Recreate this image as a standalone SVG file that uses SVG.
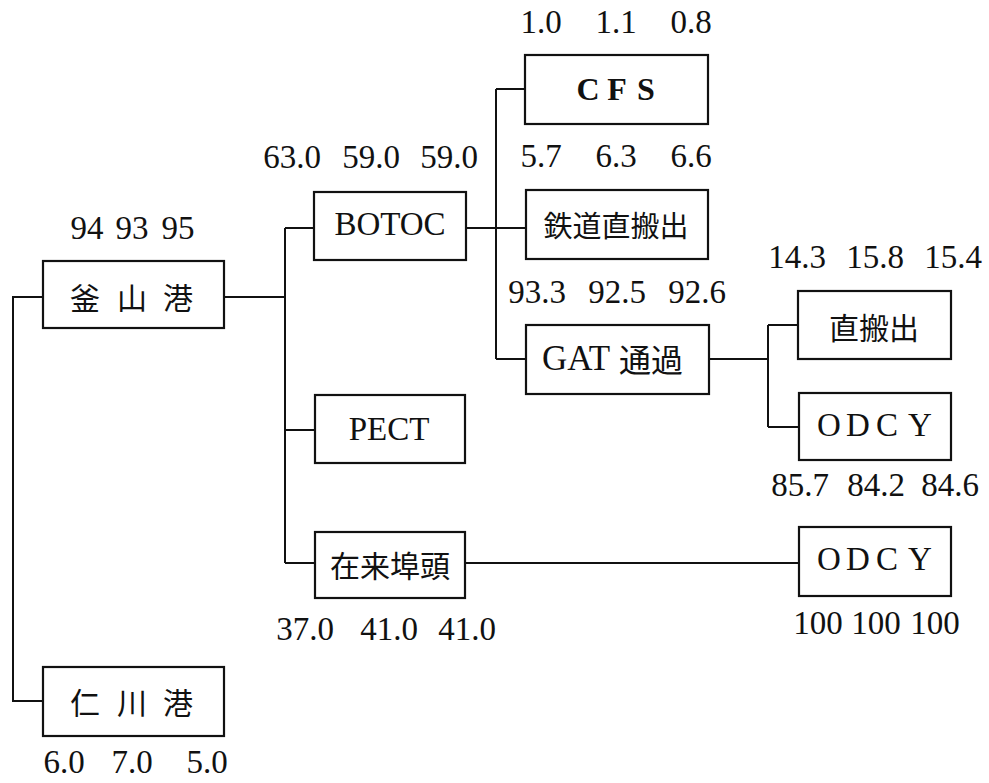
<svg xmlns="http://www.w3.org/2000/svg" width="989" height="783" viewBox="0 0 989 783">
<style>
.box{fill:#fff;stroke:#111;stroke-width:2.2}
.ln{fill:none;stroke:#111;stroke-width:2}
.num{font-family:"Liberation Serif","Noto Sans CJK JP",serif;font-size:33px;fill:#111;text-anchor:middle}
.lat{font-family:"Liberation Serif",serif;font-size:33px;fill:#111;text-anchor:middle}
.cjk{font-family:"Noto Sans CJK JP",sans-serif;font-size:30px;fill:#111;text-anchor:middle;dominant-baseline:central}
</style>
<rect width="989" height="783" fill="#fff"/>
<g id="connectors">
<polyline class="ln" points="43,297 13,297 13,701 43,701"/>
<line class="ln" x1="224" y1="297" x2="285" y2="297"/>
<line class="ln" x1="285" y1="228" x2="285" y2="563"/>
<line class="ln" x1="285" y1="228" x2="314" y2="228"/>
<line class="ln" x1="285" y1="430" x2="315" y2="430"/>
<line class="ln" x1="285" y1="563" x2="315" y2="563"/>
<line class="ln" x1="466" y1="228" x2="526" y2="228"/>
<line class="ln" x1="496" y1="89" x2="496" y2="359"/>
<line class="ln" x1="496" y1="89" x2="525" y2="89"/>
<line class="ln" x1="496" y1="359" x2="526" y2="359"/>
<line class="ln" x1="709" y1="359" x2="768" y2="359"/>
<line class="ln" x1="768" y1="325" x2="768" y2="427"/>
<line class="ln" x1="768" y1="325" x2="798" y2="325"/>
<line class="ln" x1="768" y1="427" x2="799" y2="427"/>
<line class="ln" x1="465" y1="563" x2="799" y2="563"/>
</g>
<g id="busan">
<rect class="box" x="43" y="261" width="181" height="67"/>
<text class="cjk" x="85 132 178" y="296">釜山港</text>
<text class="num" y="239"><tspan x="87">94</tspan><tspan x="132">93</tspan><tspan x="178">95</tspan></text>
</g>
<g id="incheon">
<rect class="box" x="43" y="667" width="181" height="69"/>
<text class="cjk" x="85 132 178" y="701">仁川港</text>
<text class="num" y="773"><tspan x="64">6.0</tspan><tspan x="132">7.0</tspan><tspan x="207">5.0</tspan></text>
</g>
<g id="botoc">
<rect class="box" x="314" y="192" width="152" height="68"/>
<text class="lat" x="390" y="235">BOTOC</text>
<text class="num" y="168"><tspan x="292">63.0</tspan><tspan x="371">59.0</tspan><tspan x="449">59.0</tspan></text>
</g>
<g id="pect">
<rect class="box" x="315" y="395" width="150" height="68"/>
<text class="lat" x="389" y="440">PECT</text>
</g>
<g id="zairai">
<rect class="box" x="315" y="532" width="150" height="66"/>
<text class="cjk" x="390" y="564">在来埠頭</text>
<text class="num" y="640"><tspan x="305">37.0</tspan><tspan x="389">41.0</tspan><tspan x="467">41.0</tspan></text>
</g>
<g id="cfs">
<rect class="box" x="525" y="55" width="183" height="69"/>
<text class="lat" x="588 617 646" y="100" style="font-weight:bold;font-size:32px">CFS</text>
<text class="num" y="33"><tspan x="541">1.0</tspan><tspan x="616">1.1</tspan><tspan x="691">0.8</tspan></text>
</g>
<g id="rail">
<rect class="box" x="526" y="190" width="182" height="69"/>
<text class="cjk" x="616" y="224" style="font-size:29px">鉄道直搬出</text>
<text class="num" y="167"><tspan x="541">5.7</tspan><tspan x="616">6.3</tspan><tspan x="691">6.6</tspan></text>
</g>
<g id="gat">
<rect class="box" x="526" y="325" width="183" height="69"/>
<text class="lat" x="576" y="370" style="font-size:35px">GAT</text>
<text class="cjk" x="651" y="358" style="font-size:32px">通過</text>
<text class="num" y="303"><tspan x="537">93.3</tspan><tspan x="617">92.5</tspan><tspan x="697">92.6</tspan></text>
</g>
<g id="direct">
<rect class="box" x="798" y="291" width="153" height="68"/>
<text class="cjk" x="874" y="326">直搬出</text>
<text class="num" y="268"><tspan x="797">14.3</tspan><tspan x="875">15.8</tspan><tspan x="953">15.4</tspan></text>
</g>
<g id="odcy1">
<rect class="box" x="799" y="393" width="152" height="67"/>
<text class="lat" x="829 858 887 920" y="436">ODCY</text>
<text class="num" y="496"><tspan x="800">85.7</tspan><tspan x="876">84.2</tspan><tspan x="950">84.6</tspan></text>
</g>
<g id="odcy2">
<rect class="box" x="799" y="527" width="152" height="69"/>
<text class="lat" x="829 858 887 920" y="570">ODCY</text>
<text class="num" y="634"><tspan x="818">100</tspan><tspan x="876">100</tspan><tspan x="935">100</tspan></text>
</g>
</svg>
